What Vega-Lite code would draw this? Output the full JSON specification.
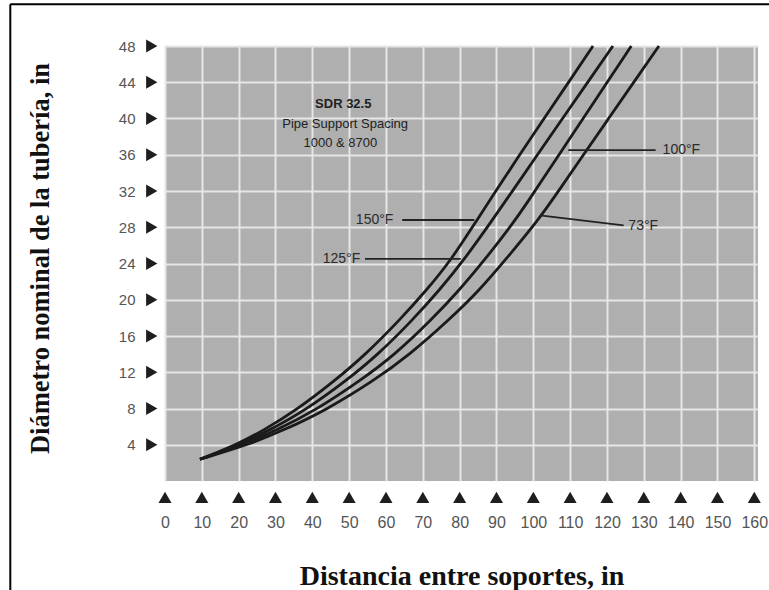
{
  "$schema": "https://vega.github.io/schema/vega-lite/v6.json",
  "width": 593,
  "height": 435,
  "autosize": "none",
  "padding": {"left": 165, "top": 46, "right": 11, "bottom": 109},
  "background": "white",
  "config": {
    "view": {"fill": "#afafaf", "stroke": null},
    "font": "Liberation Sans",
    "axis": {"labelOverlap": false, "labelFlush": false, "labelBound": false}
  },
  "resolve": {"axis": {"x": "independent", "y": "independent"}},
  "datasets": {
    "curves": [
      {"t": "150°F", "x": 9.5, "y": 2.4}, {"t": "150°F", "x": 19.4, "y": 4.0}, {"t": "150°F", "x": 26.8, "y": 5.6},
      {"t": "150°F", "x": 35.6, "y": 7.8}, {"t": "150°F", "x": 46.2, "y": 11.1}, {"t": "150°F", "x": 54.3, "y": 13.9},
      {"t": "150°F", "x": 63.8, "y": 17.8}, {"t": "150°F", "x": 71.1, "y": 21.1}, {"t": "150°F", "x": 77.7, "y": 24.4},
      {"t": "150°F", "x": 84.7, "y": 28.8}, {"t": "150°F", "x": 90.0, "y": 32.1}, {"t": "150°F", "x": 95.3, "y": 35.4},
      {"t": "150°F", "x": 102.6, "y": 39.8}, {"t": "150°F", "x": 109.9, "y": 44.2}, {"t": "150°F", "x": 116.2, "y": 48},
      {"t": "125°F", "x": 9.5, "y": 2.4}, {"t": "125°F", "x": 20.4, "y": 4.0}, {"t": "125°F", "x": 28.4, "y": 5.6},
      {"t": "125°F", "x": 38.1, "y": 7.8}, {"t": "125°F", "x": 49.3, "y": 11.1}, {"t": "125°F", "x": 57.7, "y": 13.9},
      {"t": "125°F", "x": 67.3, "y": 17.8}, {"t": "125°F", "x": 74.6, "y": 21.1}, {"t": "125°F", "x": 81.2, "y": 24.4},
      {"t": "125°F", "x": 88.9, "y": 28.8}, {"t": "125°F", "x": 94.5, "y": 32.1}, {"t": "125°F", "x": 100.1, "y": 35.4},
      {"t": "125°F", "x": 107.6, "y": 39.8}, {"t": "125°F", "x": 115.1, "y": 44.2}, {"t": "125°F", "x": 121.6, "y": 48},
      {"t": "100°F", "x": 9.5, "y": 2.4}, {"t": "100°F", "x": 21.3, "y": 4.0}, {"t": "100°F", "x": 30.3, "y": 5.6},
      {"t": "100°F", "x": 40.9, "y": 7.8}, {"t": "100°F", "x": 53.1, "y": 11.1}, {"t": "100°F", "x": 62.3, "y": 13.9},
      {"t": "100°F", "x": 72.4, "y": 17.8}, {"t": "100°F", "x": 80.0, "y": 21.1}, {"t": "100°F", "x": 86.8, "y": 24.4},
      {"t": "100°F", "x": 95.2, "y": 28.8}, {"t": "100°F", "x": 100.6, "y": 32.1}, {"t": "100°F", "x": 106.0, "y": 35.4},
      {"t": "100°F", "x": 113.2, "y": 39.8}, {"t": "100°F", "x": 120.4, "y": 44.2}, {"t": "100°F", "x": 126.6, "y": 48},
      {"t": "73°F", "x": 9.5, "y": 2.4}, {"t": "73°F", "x": 22.6, "y": 4.0}, {"t": "73°F", "x": 32.2, "y": 5.6},
      {"t": "73°F", "x": 43.6, "y": 7.8}, {"t": "73°F", "x": 56.8, "y": 11.1}, {"t": "73°F", "x": 66.3, "y": 13.9},
      {"t": "73°F", "x": 77.2, "y": 17.8}, {"t": "73°F", "x": 85.5, "y": 21.1}, {"t": "73°F", "x": 92.4, "y": 24.4},
      {"t": "73°F", "x": 101.4, "y": 28.8}, {"t": "73°F", "x": 107.0, "y": 32.1}, {"t": "73°F", "x": 112.6, "y": 35.4},
      {"t": "73°F", "x": 120.1, "y": 39.8}, {"t": "73°F", "x": 127.6, "y": 44.2}, {"t": "73°F", "x": 134.1, "y": 48}
    ],
    "xticks": [
      {"x": 0}, {"x": 10}, {"x": 20}, {"x": 30}, {"x": 40}, {"x": 50}, {"x": 60}, {"x": 70}, {"x": 80},
      {"x": 90}, {"x": 100}, {"x": 110}, {"x": 120}, {"x": 130}, {"x": 140}, {"x": 150}, {"x": 160}
    ],
    "yticks": [
      {"y": 4}, {"y": 8}, {"y": 12}, {"y": 16}, {"y": 20}, {"y": 24}, {"y": 28}, {"y": 32}, {"y": 36}, {"y": 40}, {"y": 44}, {"y": 48}
    ],
    "block": [
      {"label": "SDR 32.5", "x": 48.4, "y": 41.6, "w": "bold"},
      {"label": "Pipe Support Spacing", "x": 48.9, "y": 39.4, "w": "normal"},
      {"label": "1000 & 8700", "x": 47.6, "y": 37.3, "w": "normal"}
    ],
    "temps": [
      {"label": "150°F", "side": "left", "x": 62.0, "y": 28.8},
      {"label": "125°F", "side": "left", "x": 53.0, "y": 24.5},
      {"label": "100°F", "side": "right", "x": 135.1, "y": 36.5},
      {"label": "73°F", "side": "right", "x": 125.8, "y": 28.1}
    ],
    "leaders": [
      {"label": "150°F", "x": 64.4, "x2": 84.0, "y": 28.8, "y2": 28.8},
      {"label": "125°F", "x": 54.3, "x2": 80.3, "y": 24.5, "y2": 24.5},
      {"label": "100°F", "x": 109.5, "x2": 133.2, "y": 36.5, "y2": 36.5},
      {"label": "73°F", "x": 101.8, "x2": 124.5, "y": 29.3, "y2": 28.2}
    ]
  },
  "layer": [
    {
      "data": {"name": "curves"},
      "mark": {"type": "line", "interpolate": "basis", "color": "#1a1a1a", "strokeWidth": 2.8},
      "encoding": {
        "x": {
          "field": "x", "type": "quantitative",
          "scale": {"domain": [0, 161], "nice": false, "zero": false},
          "axis": {
            "values": [0, 10, 20, 30, 40, 50, 60, 70, 80, 90, 100, 110, 120, 130, 140, 150, 160],
            "domain": false, "ticks": false, "tickSize": 0,
            "labelPadding": 33, "labelFontSize": 16, "labelColor": "#555555", "labelFont": "Liberation Sans",
            "labelOverlap": false, "labelFlush": false, "labelBound": false,
            "grid": true, "gridColor": "#e6e6e6", "gridWidth": 2, "gridOpacity": 1,
            "title": "Distancia entre soportes, in",
            "titleFont": "Liberation Serif", "titleFontSize": 28, "titleFontWeight": "bold", "titleColor": "#111111",
            "titleY": 103, "titleBaseline": "alphabetic"
          }
        },
        "y": {
          "field": "y", "type": "quantitative",
          "scale": {"domain": [0, 48], "nice": false, "zero": false},
          "axis": {
            "values": [4, 8, 12, 16, 20, 24, 28, 32, 36, 40, 44, 48],
            "domain": false, "ticks": false, "tickSize": 0,
            "labelPadding": 30, "labelFontSize": 15, "labelColor": "#555555", "labelFont": "Liberation Sans",
            "labelOverlap": false, "labelFlush": false, "labelBound": false,
            "grid": true, "gridColor": "#e6e6e6", "gridWidth": 2, "gridOpacity": 1,
            "title": "Diámetro nominal de la tubería, in",
            "titleFont": "Liberation Serif", "titleFontSize": 26.5, "titleFontWeight": "bold", "titleColor": "#111111",
            "titleX": -125, "titleY": 212, "titleAngle": -90, "titleAlign": "center", "titleBaseline": "middle"
          }
        },
        "detail": {"field": "t"}
      }
    },
    {
      "data": {"name": "xticks"},
      "mark": {"type": "point", "shape": "triangle-up", "filled": true, "size": 170, "color": "#1e1e1e", "opacity": 1},
      "encoding": {
        "x": {"field": "x", "type": "quantitative", "axis": null},
        "y": {"datum": -1.8, "axis": null}
      }
    },
    {
      "data": {"name": "yticks"},
      "mark": {"type": "point", "shape": "triangle-right", "filled": true, "size": 170, "color": "#1e1e1e", "opacity": 1},
      "encoding": {
        "x": {"datum": -3.6, "axis": null},
        "y": {"field": "y", "type": "quantitative", "axis": null}
      }
    },
    {
      "data": {"name": "leaders"},
      "mark": {"type": "rule", "color": "#222222", "strokeWidth": 1.8},
      "encoding": {
        "x": {"field": "x", "type": "quantitative", "axis": null},
        "x2": {"field": "x2"},
        "y": {"field": "y", "type": "quantitative", "axis": null},
        "y2": {"field": "y2"}
      }
    },
    {
      "data": {"name": "temps"},
      "transform": [{"filter": "datum.side === 'left'"}],
      "mark": {"type": "text", "align": "right", "baseline": "middle", "fontSize": 14, "color": "#2b2b2b", "font": "Liberation Sans"},
      "encoding": {
        "x": {"field": "x", "type": "quantitative", "axis": null},
        "y": {"field": "y", "type": "quantitative", "axis": null},
        "text": {"field": "label"}
      }
    },
    {
      "data": {"name": "temps"},
      "transform": [{"filter": "datum.side === 'right'"}],
      "mark": {"type": "text", "align": "left", "baseline": "middle", "fontSize": 14, "color": "#2b2b2b", "font": "Liberation Sans"},
      "encoding": {
        "x": {"field": "x", "type": "quantitative", "axis": null},
        "y": {"field": "y", "type": "quantitative", "axis": null},
        "text": {"field": "label"}
      }
    },
    {
      "data": {"name": "block"},
      "transform": [{"filter": "datum.w === 'bold'"}],
      "mark": {"type": "text", "align": "center", "baseline": "middle", "fontSize": 13, "fontWeight": "bold", "color": "#222222", "font": "Liberation Sans"},
      "encoding": {
        "x": {"field": "x", "type": "quantitative", "axis": null},
        "y": {"field": "y", "type": "quantitative", "axis": null},
        "text": {"field": "label"}
      }
    },
    {
      "data": {"name": "block"},
      "transform": [{"filter": "datum.w === 'normal'"}],
      "mark": {"type": "text", "align": "center", "baseline": "middle", "fontSize": 13, "color": "#222222", "font": "Liberation Sans"},
      "encoding": {
        "x": {"field": "x", "type": "quantitative", "axis": null},
        "y": {"field": "y", "type": "quantitative", "axis": null},
        "text": {"field": "label"}
      }
    },
    {
      "data": {"values": [{}]},
      "mark": {"type": "rule", "color": "#000000", "strokeWidth": 2},
      "encoding": {
        "x": {"datum": -42, "axis": null},
        "x2": {"datum": 166},
        "y": {"datum": 52.6, "axis": null}
      }
    },
    {
      "data": {"values": [{}]},
      "mark": {"type": "rule", "color": "#000000", "strokeWidth": 2},
      "encoding": {
        "x": {"datum": -42, "axis": null},
        "y": {"datum": 52.6, "axis": null},
        "y2": {"datum": -13}
      }
    }
  ]
}
